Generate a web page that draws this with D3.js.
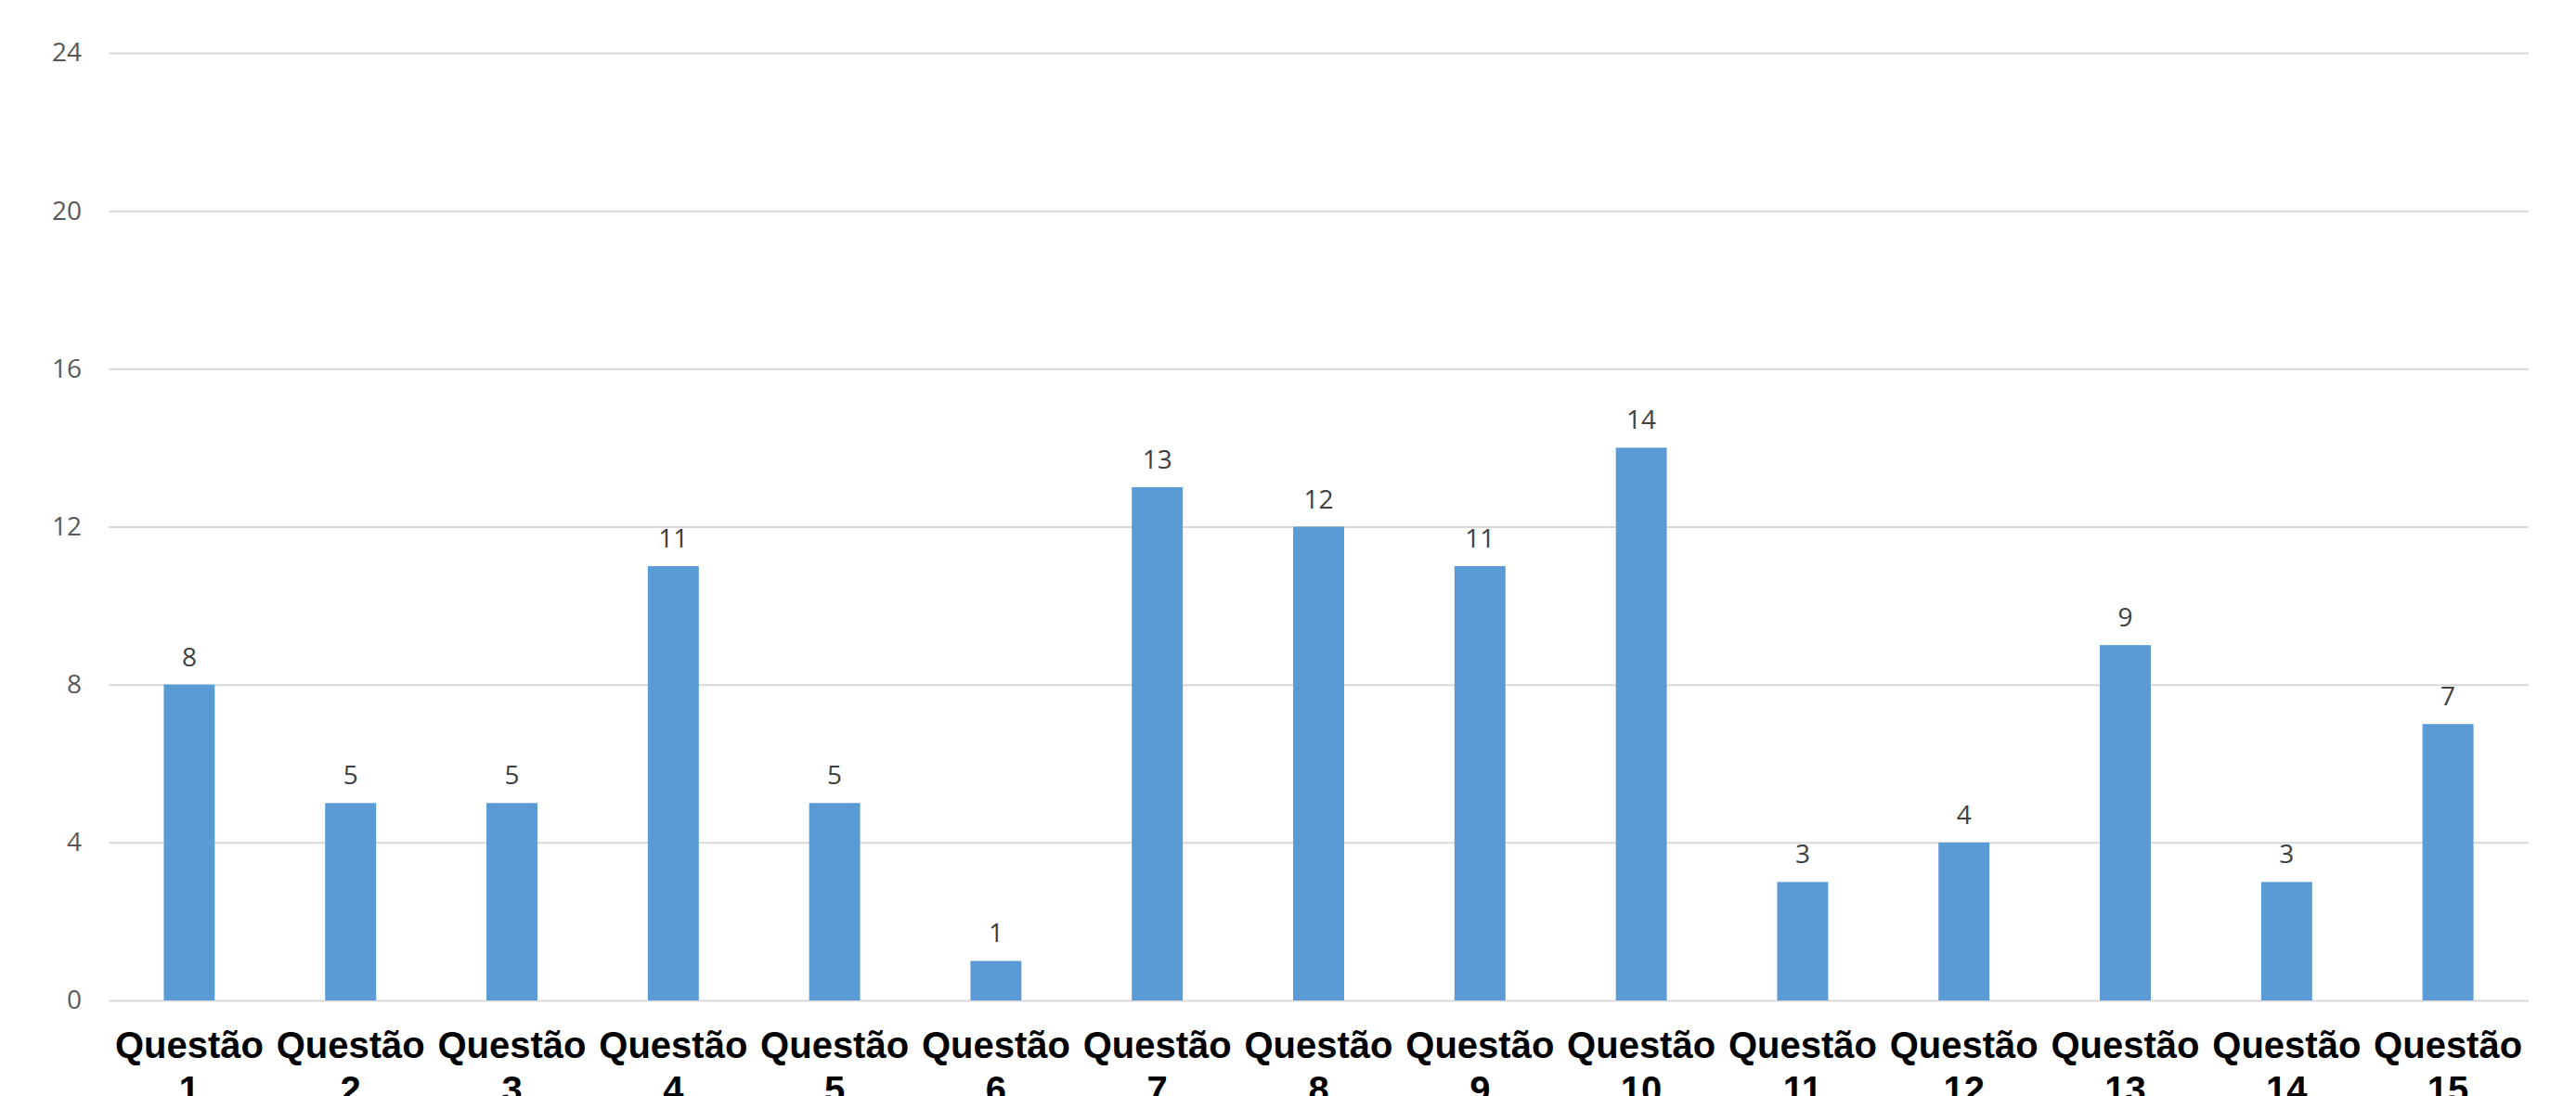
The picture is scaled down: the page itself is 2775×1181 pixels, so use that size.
<!DOCTYPE html>
<html>
<head>
<meta charset="utf-8">
<script src="https://cdn.jsdelivr.net/npm/d3@7"></script>
<style>
  body { margin: 0; background: #fff; }
</style>
</head>
<body>
<div id="chart"></div>
<script>
var categories = ["Questão 1", "Questão 2", "Questão 3", "Questão 4", "Questão 5",
                  "Questão 6", "Questão 7", "Questão 8", "Questão 9", "Questão 10",
                  "Questão 11", "Questão 12", "Questão 13", "Questão 14", "Questão 15"];
var values = [8, 5, 5, 11, 5, 1, 13, 12, 11, 14, 3, 4, 9, 3, 7];
var yTicks = [0, 4, 8, 12, 16, 20, 24];

var W = 2775, H = 1181;
var margin = {top: 57, right: 51, bottom: 103, left: 117},
    width = W - margin.left - margin.right,
    height = H - margin.top - margin.bottom;

var svg = d3.select("#chart")
  .append("svg")
    .attr("width", W)
    .attr("height", H)
  .append("g")
    .attr("transform", "translate(" + margin.left + "," + margin.top + ")");

var x = d3.scaleBand()
    .domain(categories)
    .range([0, width])
    .paddingInner(0.684)
    .paddingOuter(0.342);

var y = d3.scaleLinear()
    .domain([0, 24])
    .range([height, 0]);

// gridlines + y tick labels
var yAxis = svg.append("g")
    .call(d3.axisLeft(y).tickValues(yTicks).tickSize(-width).tickPadding(29));
yAxis.select(".domain").remove();
yAxis.selectAll(".tick line")
    .attr("stroke", "#d9d9d9")
    .attr("stroke-width", 2);
yAxis.selectAll(".tick text")
    .attr("fill", "#595959")
    .style("font-family", "'Open Sans', sans-serif")
    .style("font-size", "28px");

// bars
svg.selectAll("rect.bar")
    .data(values)
    .enter()
    .append("rect")
    .attr("class", "bar")
    .attr("x", function(d, i) { return x(categories[i]); })
    .attr("y", function(d) { return y(d); })
    .attr("width", x.bandwidth())
    .attr("height", function(d) { return height - y(d); })
    .attr("fill", "#5b9bd5");

// value labels
svg.selectAll("text.val")
    .data(values)
    .enter()
    .append("text")
    .attr("class", "val")
    .attr("x", function(d, i) { return x(categories[i]) + x.bandwidth() / 2; })
    .attr("y", function(d) { return y(d) - 20; })
    .attr("text-anchor", "middle")
    .attr("fill", "#404040")
    .style("font-family", "'Open Sans', sans-serif")
    .style("font-size", "28px")
    .text(function(d) { return d; });

// category labels (two lines)
var catLabels = svg.selectAll("text.cat")
    .data(categories)
    .enter()
    .append("text")
    .attr("class", "cat")
    .attr("text-anchor", "middle")
    .attr("fill", "#000")
    .style("font-family", "'Liberation Sans', Arial, sans-serif")
    .style("font-weight", "bold")
    .style("font-size", "40px")
    .attr("transform", function(d) {
        return "translate(" + (x(d) + x.bandwidth() / 2) + "," + (height + 62) + ")";
    });

catLabels.each(function(d) {
    var parts = d.split(" ");
    var t = d3.select(this);
    t.append("tspan").attr("x", 0).attr("y", 0).text(parts[0]);
    t.append("tspan").attr("x", 0).attr("y", 48).text(parts[1]);
});
</script>
</body>
</html>
